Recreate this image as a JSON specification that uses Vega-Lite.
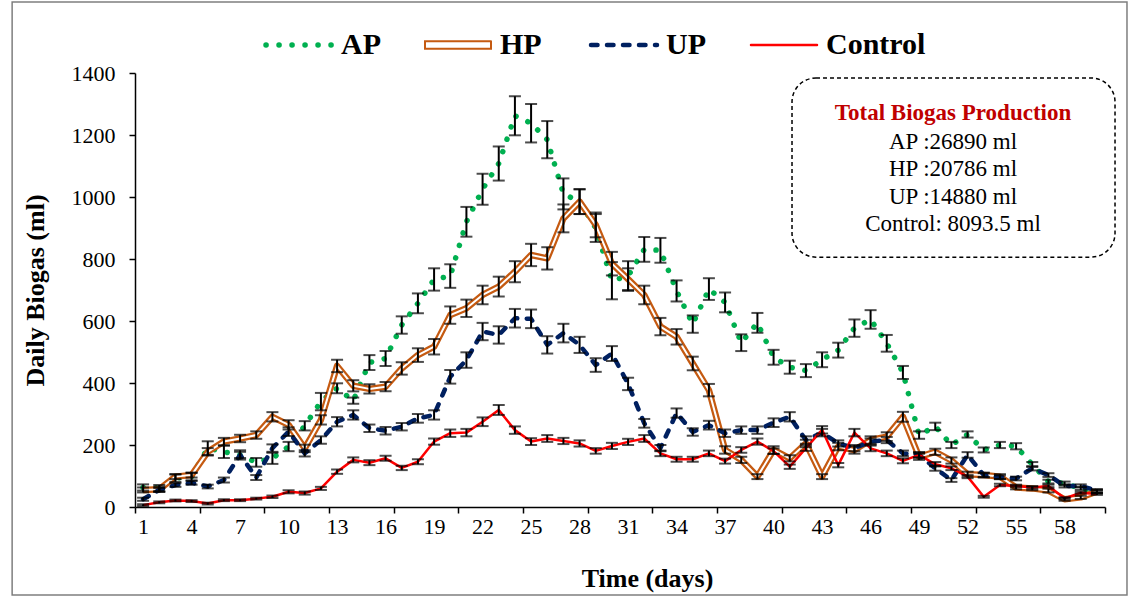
{
"$schema": "https://vega.github.io/schema/vega-lite/v6.json",
"width": 970, "height": 434,
"autosize": {"type": "none"},
"padding": {"left": 135, "top": 73, "right": 23, "bottom": 89},
"background": "white",
"config": {"view": {"stroke": null}, "font": "Liberation Serif", "axis": {"labelOverlap": false, "labelFlush": false, "labelBound": false}},
"datasets": {"bio": [
{"d":1,"s":"AP","v":63,"e":10},{"d":2,"s":"AP","v":61,"e":10},{"d":3,"s":"AP","v":93,"e":12},{"d":4,"s":"AP","v":98,"e":12},{"d":5,"s":"AP","v":190,"e":22},{"d":6,"s":"AP","v":178,"e":20},{"d":7,"s":"AP","v":168,"e":15},{"d":8,"s":"AP","v":144,"e":14},{"d":9,"s":"AP","v":157,"e":18},{"d":10,"s":"AP","v":195,"e":15},
{"d":11,"s":"AP","v":262,"e":15},{"d":12,"s":"AP","v":340,"e":28},{"d":13,"s":"AP","v":383,"e":16},{"d":14,"s":"AP","v":343,"e":10},{"d":15,"s":"AP","v":466,"e":24},{"d":16,"s":"AP","v":479,"e":24},{"d":17,"s":"AP","v":587,"e":28},{"d":18,"s":"AP","v":657,"e":32},{"d":19,"s":"AP","v":734,"e":36},{"d":20,"s":"AP","v":745,"e":38},
{"d":21,"s":"AP","v":920,"e":48},{"d":22,"s":"AP","v":1025,"e":50},{"d":23,"s":"AP","v":1108,"e":55},{"d":24,"s":"AP","v":1262,"e":63},{"d":25,"s":"AP","v":1238,"e":62},{"d":26,"s":"AP","v":1185,"e":60},{"d":27,"s":"AP","v":1010,"e":50},{"d":28,"s":"AP","v":985,"e":40},{"d":29,"s":"AP","v":900,"e":45},{"d":30,"s":"AP","v":730,"e":60},
{"d":31,"s":"AP","v":745,"e":48},{"d":32,"s":"AP","v":831,"e":40},{"d":33,"s":"AP","v":828,"e":40},{"d":34,"s":"AP","v":697,"e":34},{"d":35,"s":"AP","v":590,"e":28},{"d":36,"s":"AP","v":703,"e":35},{"d":37,"s":"AP","v":660,"e":32},{"d":38,"s":"AP","v":530,"e":27},{"d":39,"s":"AP","v":594,"e":32},{"d":40,"s":"AP","v":483,"e":24},
{"d":41,"s":"AP","v":451,"e":21},{"d":42,"s":"AP","v":440,"e":21},{"d":43,"s":"AP","v":475,"e":24},{"d":44,"s":"AP","v":506,"e":24},{"d":45,"s":"AP","v":577,"e":28},{"d":46,"s":"AP","v":605,"e":30},{"d":47,"s":"AP","v":528,"e":27},{"d":48,"s":"AP","v":434,"e":21},{"d":49,"s":"AP","v":232,"e":12},{"d":50,"s":"AP","v":260,"e":12},
{"d":51,"s":"AP","v":200,"e":10},{"d":52,"s":"AP","v":234,"e":10},{"d":53,"s":"AP","v":184,"e":8},{"d":54,"s":"AP","v":200,"e":10},{"d":55,"s":"AP","v":196,"e":10},{"d":56,"s":"AP","v":137,"e":8},{"d":57,"s":"AP","v":82,"e":6},{"d":58,"s":"AP","v":76,"e":6},{"d":59,"s":"AP","v":60,"e":5},{"d":60,"s":"AP","v":49,"e":5},
{"d":1,"s":"HP","v":55,"e":8},{"d":2,"s":"HP","v":57,"e":8},{"d":3,"s":"HP","v":98,"e":8},{"d":4,"s":"HP","v":103,"e":8},{"d":5,"s":"HP","v":178,"e":12},{"d":6,"s":"HP","v":211,"e":12},{"d":7,"s":"HP","v":221,"e":12},{"d":8,"s":"HP","v":232,"e":12},{"d":9,"s":"HP","v":291,"e":15},{"d":10,"s":"HP","v":265,"e":15},
{"d":11,"s":"HP","v":189,"e":12},{"d":12,"s":"HP","v":281,"e":15},{"d":13,"s":"HP","v":455,"e":20},{"d":14,"s":"HP","v":391,"e":18},{"d":15,"s":"HP","v":381,"e":15},{"d":16,"s":"HP","v":388,"e":15},{"d":17,"s":"HP","v":447,"e":20},{"d":18,"s":"HP","v":490,"e":22},{"d":19,"s":"HP","v":517,"e":25},{"d":20,"s":"HP","v":619,"e":28},
{"d":21,"s":"HP","v":641,"e":28},{"d":22,"s":"HP","v":684,"e":30},{"d":23,"s":"HP","v":711,"e":32},{"d":24,"s":"HP","v":759,"e":34},{"d":25,"s":"HP","v":813,"e":36},{"d":26,"s":"HP","v":802,"e":36},{"d":27,"s":"HP","v":931,"e":45},{"d":28,"s":"HP","v":985,"e":40},{"d":29,"s":"HP","v":910,"e":40},{"d":30,"s":"HP","v":785,"e":38},
{"d":31,"s":"HP","v":735,"e":35},{"d":32,"s":"HP","v":684,"e":30},{"d":33,"s":"HP","v":582,"e":28},{"d":34,"s":"HP","v":549,"e":25},{"d":35,"s":"HP","v":463,"e":22},{"d":36,"s":"HP","v":377,"e":20},{"d":37,"s":"HP","v":184,"e":12},{"d":38,"s":"HP","v":152,"e":10},{"d":39,"s":"HP","v":98,"e":8},{"d":40,"s":"HP","v":184,"e":12},
{"d":41,"s":"HP","v":157,"e":10},{"d":42,"s":"HP","v":205,"e":12},{"d":43,"s":"HP","v":98,"e":8},{"d":44,"s":"HP","v":195,"e":12},{"d":45,"s":"HP","v":184,"e":12},{"d":46,"s":"HP","v":216,"e":12},{"d":47,"s":"HP","v":227,"e":14},{"d":48,"s":"HP","v":291,"e":16},{"d":49,"s":"HP","v":162,"e":10},{"d":50,"s":"HP","v":178,"e":10},
{"d":51,"s":"HP","v":150,"e":10},{"d":52,"s":"HP","v":106,"e":8},{"d":53,"s":"HP","v":103,"e":8},{"d":54,"s":"HP","v":98,"e":8},{"d":55,"s":"HP","v":63,"e":6},{"d":56,"s":"HP","v":60,"e":6},{"d":57,"s":"HP","v":53,"e":6},{"d":58,"s":"HP","v":25,"e":5},{"d":59,"s":"HP","v":31,"e":5},{"d":60,"s":"HP","v":50,"e":5},
{"d":1,"s":"UP","v":25,"e":5},{"d":2,"s":"UP","v":55,"e":6},{"d":3,"s":"UP","v":71,"e":6},{"d":4,"s":"UP","v":78,"e":6},{"d":5,"s":"UP","v":66,"e":6},{"d":6,"s":"UP","v":87,"e":8},{"d":7,"s":"UP","v":168,"e":10},{"d":8,"s":"UP","v":95,"e":8},{"d":9,"s":"UP","v":190,"e":12},{"d":10,"s":"UP","v":243,"e":14},
{"d":11,"s":"UP","v":173,"e":10},{"d":12,"s":"UP","v":216,"e":12},{"d":13,"s":"UP","v":275,"e":15},{"d":14,"s":"UP","v":297,"e":15},{"d":15,"s":"UP","v":254,"e":12},{"d":16,"s":"UP","v":246,"e":12},{"d":17,"s":"UP","v":259,"e":12},{"d":18,"s":"UP","v":286,"e":14},{"d":19,"s":"UP","v":297,"e":15},{"d":20,"s":"UP","v":420,"e":22},
{"d":21,"s":"UP","v":474,"e":25},{"d":22,"s":"UP","v":566,"e":28},{"d":23,"s":"UP","v":555,"e":28},{"d":24,"s":"UP","v":609,"e":30},{"d":25,"s":"UP","v":607,"e":30},{"d":26,"s":"UP","v":523,"e":28},{"d":27,"s":"UP","v":561,"e":30},{"d":28,"s":"UP","v":523,"e":26},{"d":29,"s":"UP","v":458,"e":22},{"d":30,"s":"UP","v":495,"e":24},
{"d":31,"s":"UP","v":397,"e":20},{"d":32,"s":"UP","v":270,"e":14},{"d":33,"s":"UP","v":190,"e":10},{"d":34,"s":"UP","v":303,"e":15},{"d":35,"s":"UP","v":242,"e":12},{"d":36,"s":"UP","v":264,"e":14},{"d":37,"s":"UP","v":238,"e":12},{"d":38,"s":"UP","v":248,"e":12},{"d":39,"s":"UP","v":248,"e":12},{"d":40,"s":"UP","v":272,"e":14},
{"d":41,"s":"UP","v":291,"e":15},{"d":42,"s":"UP","v":216,"e":12},{"d":43,"s":"UP","v":240,"e":12},{"d":44,"s":"UP","v":205,"e":10},{"d":45,"s":"UP","v":190,"e":10},{"d":46,"s":"UP","v":211,"e":10},{"d":47,"s":"UP","v":216,"e":10},{"d":48,"s":"UP","v":173,"e":9},{"d":49,"s":"UP","v":168,"e":9},{"d":50,"s":"UP","v":125,"e":8},
{"d":51,"s":"UP","v":87,"e":6},{"d":52,"s":"UP","v":168,"e":9},{"d":53,"s":"UP","v":103,"e":6},{"d":54,"s":"UP","v":96,"e":6},{"d":55,"s":"UP","v":92,"e":6},{"d":56,"s":"UP","v":125,"e":7},{"d":57,"s":"UP","v":103,"e":6},{"d":58,"s":"UP","v":68,"e":5},{"d":59,"s":"UP","v":68,"e":5},{"d":60,"s":"UP","v":53,"e":5},
{"d":1,"s":"Control","v":6,"e":3},{"d":2,"s":"Control","v":15,"e":3},{"d":3,"s":"Control","v":21,"e":3},{"d":4,"s":"Control","v":19,"e":3},{"d":5,"s":"Control","v":11,"e":3},{"d":6,"s":"Control","v":22,"e":3},{"d":7,"s":"Control","v":22,"e":3},{"d":8,"s":"Control","v":27,"e":3},{"d":9,"s":"Control","v":33,"e":4},{"d":10,"s":"Control","v":49,"e":5},
{"d":11,"s":"Control","v":45,"e":5},{"d":12,"s":"Control","v":60,"e":5},{"d":13,"s":"Control","v":114,"e":7},{"d":14,"s":"Control","v":152,"e":8},{"d":15,"s":"Control","v":143,"e":8},{"d":16,"s":"Control","v":157,"e":8},{"d":17,"s":"Control","v":126,"e":7},{"d":18,"s":"Control","v":146,"e":8},{"d":19,"s":"Control","v":211,"e":10},{"d":20,"s":"Control","v":238,"e":12},
{"d":21,"s":"Control","v":240,"e":12},{"d":22,"s":"Control","v":275,"e":14},{"d":23,"s":"Control","v":313,"e":16},{"d":24,"s":"Control","v":248,"e":12},{"d":25,"s":"Control","v":211,"e":11},{"d":26,"s":"Control","v":221,"e":11},{"d":27,"s":"Control","v":213,"e":10},{"d":28,"s":"Control","v":205,"e":10},{"d":29,"s":"Control","v":181,"e":9},{"d":30,"s":"Control","v":197,"e":10},
{"d":31,"s":"Control","v":210,"e":10},{"d":32,"s":"Control","v":221,"e":11},{"d":33,"s":"Control","v":173,"e":9},{"d":34,"s":"Control","v":154,"e":8},{"d":35,"s":"Control","v":154,"e":8},{"d":36,"s":"Control","v":173,"e":9},{"d":37,"s":"Control","v":148,"e":8},{"d":38,"s":"Control","v":184,"e":9},{"d":39,"s":"Control","v":211,"e":10},{"d":40,"s":"Control","v":180,"e":9},
{"d":41,"s":"Control","v":130,"e":7},{"d":42,"s":"Control","v":190,"e":9},{"d":43,"s":"Control","v":249,"e":12},{"d":44,"s":"Control","v":135,"e":7},{"d":45,"s":"Control","v":240,"e":12},{"d":46,"s":"Control","v":189,"e":9},{"d":47,"s":"Control","v":173,"e":9},{"d":48,"s":"Control","v":149,"e":8},{"d":49,"s":"Control","v":168,"e":8},{"d":50,"s":"Control","v":138,"e":7},
{"d":51,"s":"Control","v":125,"e":6},{"d":52,"s":"Control","v":98,"e":5},{"d":53,"s":"Control","v":33,"e":3},{"d":54,"s":"Control","v":71,"e":4},{"d":55,"s":"Control","v":68,"e":4},{"d":56,"s":"Control","v":63,"e":4},{"d":57,"s":"Control","v":68,"e":4},{"d":58,"s":"Control","v":28,"e":3},{"d":59,"s":"Control","v":46,"e":3},{"d":60,"s":"Control","v":42,"e":3}
], "one": [{"k": 1}]},
"layer": [
  {"data": {"name": "bio"}, "transform": [{"filter": "datum.s === 'AP'"}],
   "mark": {"type": "line", "strokeDash": [0.1, 12.9], "strokeWidth": 5.5, "strokeCap": "round", "strokeJoin": "round"},
   "encoding": {
     "x": {"field": "d", "type": "quantitative",
       "scale": {"domain": [0.5, 60.5], "nice": false, "zero": false},
       "axis": {"title": "Time (days)",
         "values": [0.5,1,4,4.5,7,8.5,10,12.5,13,16,16.5,19,20.5,22,24.5,25,28,28.5,31,32.5,34,36.5,37,40,40.5,43,44.5,46,48.5,49,52,52.5,55,56.5,58,60.5],
         "labelExpr": "datum.value % 1 === 0 ? datum.label : ''",
         "tickOpacity": {"condition": {"test": "datum.value % 1 === 0", "value": 0}, "value": 1},
         "format": "d", "labelOverlap": false, "labelFlush": false, "labelBound": false,
         "tickSize": 6, "tickColor": "black", "tickWidth": 1.5,
         "domainColor": "black", "domainWidth": 1.5, "grid": false,
         "labelFont": "Liberation Serif", "labelFontSize": 22, "labelColor": "black", "labelPadding": 3,
         "titleFont": "Liberation Serif", "titleFontSize": 26, "titleFontWeight": "bold", "titleColor": "black",
         "titleX": 512, "titleY": 71, "titleAlign": "center", "titleBaseline": "middle"
       }},
     "y": {"field": "v", "type": "quantitative",
       "scale": {"domain": [0, 1400], "nice": false},
       "axis": {"title": "Daily Biogas (ml)",
         "values": [0,200,400,600,800,1000,1200,1400], "format": "d", "labelOverlap": false,
         "tickSize": 6, "tickColor": "black", "tickWidth": 1.5,
         "domainColor": "black", "domainWidth": 1.5, "grid": false,
         "labelFont": "Liberation Serif", "labelFontSize": 22, "labelColor": "black", "labelPadding": 14,
         "titleFont": "Liberation Serif", "titleFontSize": 26, "titleFontWeight": "bold", "titleColor": "black",
         "titleX": -100, "titleY": 217, "titleAngle": 270, "titleAlign": "center", "titleBaseline": "middle"
       }},
     "color": {"field": "s", "type": "nominal",
       "scale": {"domain": ["AP", "HP", "UP", "Control"], "range": ["#00B050", "#C55A11", "#002060", "#FF0000"]},
       "legend": {"orient": "none", "legendX": 149, "legendY": -43, "direction": "horizontal", "title": null,
         "symbolType": "stroke", "symbolSize": 4356, "symbolStrokeWidth": 4,
         "labelFont": "Liberation Serif", "labelFontSize": 30, "labelFontWeight": "bold", "labelColor": "black",
         "labelOffset": 27, "columnPadding": 40,
         "encode": {"symbols": {"update": {
           "shape": {"signal": "datum.value === 'HP' ? 'M-1,-0.11H1V0.11H-1Z' : 'stroke'"},
           "fill": {"signal": "datum.value === 'HP' ? 'white' : 'transparent'"},
           "strokeWidth": {"signal": "datum.value === 'AP' ? 5.5 : datum.value === 'HP' ? 2 : datum.value === 'UP' ? 4.5 : 2.5"},
           "strokeDash": {"signal": "datum.value === 'AP' ? [0.1, 12.9] : datum.value === 'UP' ? [6.5, 9.5] : [1, 0]"},
           "strokeCap": {"value": "round"}
         }}}}}}},
  {"data": {"name": "bio"}, "transform": [{"filter": "datum.s === 'HP'"}],
   "mark": {"type": "line", "strokeWidth": 6.5, "strokeJoin": "round"},
   "encoding": {
     "x": {"field": "d", "type": "quantitative",
       "scale": {"domain": [0.5, 60.5], "nice": false, "zero": false},
       "axis": {"title": "Time (days)",
         "values": [0.5,1,4,4.5,7,8.5,10,12.5,13,16,16.5,19,20.5,22,24.5,25,28,28.5,31,32.5,34,36.5,37,40,40.5,43,44.5,46,48.5,49,52,52.5,55,56.5,58,60.5],
         "labelExpr": "datum.value % 1 === 0 ? datum.label : ''",
         "tickOpacity": {"condition": {"test": "datum.value % 1 === 0", "value": 0}, "value": 1},
         "format": "d", "labelOverlap": false, "labelFlush": false, "labelBound": false,
         "tickSize": 6, "tickColor": "black", "tickWidth": 1.5,
         "domainColor": "black", "domainWidth": 1.5, "grid": false,
         "labelFont": "Liberation Serif", "labelFontSize": 22, "labelColor": "black", "labelPadding": 3,
         "titleFont": "Liberation Serif", "titleFontSize": 26, "titleFontWeight": "bold", "titleColor": "black",
         "titleX": 512, "titleY": 71, "titleAlign": "center", "titleBaseline": "middle"
       }},
     "y": {"field": "v", "type": "quantitative",
       "scale": {"domain": [0, 1400], "nice": false},
       "axis": {"title": "Daily Biogas (ml)",
         "values": [0,200,400,600,800,1000,1200,1400], "format": "d", "labelOverlap": false,
         "tickSize": 6, "tickColor": "black", "tickWidth": 1.5,
         "domainColor": "black", "domainWidth": 1.5, "grid": false,
         "labelFont": "Liberation Serif", "labelFontSize": 22, "labelColor": "black", "labelPadding": 14,
         "titleFont": "Liberation Serif", "titleFontSize": 26, "titleFontWeight": "bold", "titleColor": "black",
         "titleX": -100, "titleY": 217, "titleAngle": 270, "titleAlign": "center", "titleBaseline": "middle"
       }},
     "color": {"field": "s", "type": "nominal", "scale": {"domain": ["AP", "HP", "UP", "Control"], "range": ["#00B050", "#C55A11", "#002060", "#FF0000"]}}}},
  {"data": {"name": "bio"}, "transform": [{"filter": "datum.s === 'HP'"}],
   "mark": {"type": "line", "strokeWidth": 2, "color": "white", "strokeJoin": "round"},
   "encoding": {
     "x": {"field": "d", "type": "quantitative",
       "scale": {"domain": [0.5, 60.5], "nice": false, "zero": false},
       "axis": {"title": "Time (days)",
         "values": [0.5,1,4,4.5,7,8.5,10,12.5,13,16,16.5,19,20.5,22,24.5,25,28,28.5,31,32.5,34,36.5,37,40,40.5,43,44.5,46,48.5,49,52,52.5,55,56.5,58,60.5],
         "labelExpr": "datum.value % 1 === 0 ? datum.label : ''",
         "tickOpacity": {"condition": {"test": "datum.value % 1 === 0", "value": 0}, "value": 1},
         "format": "d", "labelOverlap": false, "labelFlush": false, "labelBound": false,
         "tickSize": 6, "tickColor": "black", "tickWidth": 1.5,
         "domainColor": "black", "domainWidth": 1.5, "grid": false,
         "labelFont": "Liberation Serif", "labelFontSize": 22, "labelColor": "black", "labelPadding": 3,
         "titleFont": "Liberation Serif", "titleFontSize": 26, "titleFontWeight": "bold", "titleColor": "black",
         "titleX": 512, "titleY": 71, "titleAlign": "center", "titleBaseline": "middle"
       }},
     "y": {"field": "v", "type": "quantitative",
       "scale": {"domain": [0, 1400], "nice": false},
       "axis": {"title": "Daily Biogas (ml)",
         "values": [0,200,400,600,800,1000,1200,1400], "format": "d", "labelOverlap": false,
         "tickSize": 6, "tickColor": "black", "tickWidth": 1.5,
         "domainColor": "black", "domainWidth": 1.5, "grid": false,
         "labelFont": "Liberation Serif", "labelFontSize": 22, "labelColor": "black", "labelPadding": 14,
         "titleFont": "Liberation Serif", "titleFontSize": 26, "titleFontWeight": "bold", "titleColor": "black",
         "titleX": -100, "titleY": 217, "titleAngle": 270, "titleAlign": "center", "titleBaseline": "middle"
       }}}},
  {"data": {"name": "bio"}, "transform": [{"filter": "datum.s === 'UP'"}],
   "mark": {"type": "line", "strokeWidth": 4.5, "strokeDash": [6.5, 9.5], "strokeCap": "round", "strokeJoin": "round"},
   "encoding": {
     "x": {"field": "d", "type": "quantitative",
       "scale": {"domain": [0.5, 60.5], "nice": false, "zero": false},
       "axis": {"title": "Time (days)",
         "values": [0.5,1,4,4.5,7,8.5,10,12.5,13,16,16.5,19,20.5,22,24.5,25,28,28.5,31,32.5,34,36.5,37,40,40.5,43,44.5,46,48.5,49,52,52.5,55,56.5,58,60.5],
         "labelExpr": "datum.value % 1 === 0 ? datum.label : ''",
         "tickOpacity": {"condition": {"test": "datum.value % 1 === 0", "value": 0}, "value": 1},
         "format": "d", "labelOverlap": false, "labelFlush": false, "labelBound": false,
         "tickSize": 6, "tickColor": "black", "tickWidth": 1.5,
         "domainColor": "black", "domainWidth": 1.5, "grid": false,
         "labelFont": "Liberation Serif", "labelFontSize": 22, "labelColor": "black", "labelPadding": 3,
         "titleFont": "Liberation Serif", "titleFontSize": 26, "titleFontWeight": "bold", "titleColor": "black",
         "titleX": 512, "titleY": 71, "titleAlign": "center", "titleBaseline": "middle"
       }},
     "y": {"field": "v", "type": "quantitative",
       "scale": {"domain": [0, 1400], "nice": false},
       "axis": {"title": "Daily Biogas (ml)",
         "values": [0,200,400,600,800,1000,1200,1400], "format": "d", "labelOverlap": false,
         "tickSize": 6, "tickColor": "black", "tickWidth": 1.5,
         "domainColor": "black", "domainWidth": 1.5, "grid": false,
         "labelFont": "Liberation Serif", "labelFontSize": 22, "labelColor": "black", "labelPadding": 14,
         "titleFont": "Liberation Serif", "titleFontSize": 26, "titleFontWeight": "bold", "titleColor": "black",
         "titleX": -100, "titleY": 217, "titleAngle": 270, "titleAlign": "center", "titleBaseline": "middle"
       }},
     "color": {"field": "s", "type": "nominal", "scale": {"domain": ["AP", "HP", "UP", "Control"], "range": ["#00B050", "#C55A11", "#002060", "#FF0000"]}}}},
  {"data": {"name": "bio"}, "transform": [{"filter": "datum.s === 'Control'"}],
   "mark": {"type": "line", "strokeWidth": 2.5, "strokeJoin": "round"},
   "encoding": {
     "x": {"field": "d", "type": "quantitative",
       "scale": {"domain": [0.5, 60.5], "nice": false, "zero": false},
       "axis": {"title": "Time (days)",
         "values": [0.5,1,4,4.5,7,8.5,10,12.5,13,16,16.5,19,20.5,22,24.5,25,28,28.5,31,32.5,34,36.5,37,40,40.5,43,44.5,46,48.5,49,52,52.5,55,56.5,58,60.5],
         "labelExpr": "datum.value % 1 === 0 ? datum.label : ''",
         "tickOpacity": {"condition": {"test": "datum.value % 1 === 0", "value": 0}, "value": 1},
         "format": "d", "labelOverlap": false, "labelFlush": false, "labelBound": false,
         "tickSize": 6, "tickColor": "black", "tickWidth": 1.5,
         "domainColor": "black", "domainWidth": 1.5, "grid": false,
         "labelFont": "Liberation Serif", "labelFontSize": 22, "labelColor": "black", "labelPadding": 3,
         "titleFont": "Liberation Serif", "titleFontSize": 26, "titleFontWeight": "bold", "titleColor": "black",
         "titleX": 512, "titleY": 71, "titleAlign": "center", "titleBaseline": "middle"
       }},
     "y": {"field": "v", "type": "quantitative",
       "scale": {"domain": [0, 1400], "nice": false},
       "axis": {"title": "Daily Biogas (ml)",
         "values": [0,200,400,600,800,1000,1200,1400], "format": "d", "labelOverlap": false,
         "tickSize": 6, "tickColor": "black", "tickWidth": 1.5,
         "domainColor": "black", "domainWidth": 1.5, "grid": false,
         "labelFont": "Liberation Serif", "labelFontSize": 22, "labelColor": "black", "labelPadding": 14,
         "titleFont": "Liberation Serif", "titleFontSize": 26, "titleFontWeight": "bold", "titleColor": "black",
         "titleX": -100, "titleY": 217, "titleAngle": 270, "titleAlign": "center", "titleBaseline": "middle"
       }},
     "color": {"field": "s", "type": "nominal", "scale": {"domain": ["AP", "HP", "UP", "Control"], "range": ["#00B050", "#C55A11", "#002060", "#FF0000"]}}}},
  {"data": {"name": "bio"},
   "mark": {"type": "errorbar", "color": "black", "thickness": 2, "ticks": {"size": 12, "thickness": 2, "color": "black"}},
   "encoding": {
     "x": {"field": "d", "type": "quantitative",
       "scale": {"domain": [0.5, 60.5], "nice": false, "zero": false},
       "axis": {"title": "Time (days)",
         "values": [0.5,1,4,4.5,7,8.5,10,12.5,13,16,16.5,19,20.5,22,24.5,25,28,28.5,31,32.5,34,36.5,37,40,40.5,43,44.5,46,48.5,49,52,52.5,55,56.5,58,60.5],
         "labelExpr": "datum.value % 1 === 0 ? datum.label : ''",
         "tickOpacity": {"condition": {"test": "datum.value % 1 === 0", "value": 0}, "value": 1},
         "format": "d", "labelOverlap": false, "labelFlush": false, "labelBound": false,
         "tickSize": 6, "tickColor": "black", "tickWidth": 1.5,
         "domainColor": "black", "domainWidth": 1.5, "grid": false,
         "labelFont": "Liberation Serif", "labelFontSize": 22, "labelColor": "black", "labelPadding": 3,
         "titleFont": "Liberation Serif", "titleFontSize": 26, "titleFontWeight": "bold", "titleColor": "black",
         "titleX": 512, "titleY": 71, "titleAlign": "center", "titleBaseline": "middle"
       }},
     "y": {"field": "v", "type": "quantitative",
       "scale": {"domain": [0, 1400], "nice": false},
       "axis": {"title": "Daily Biogas (ml)",
         "values": [0,200,400,600,800,1000,1200,1400], "format": "d", "labelOverlap": false,
         "tickSize": 6, "tickColor": "black", "tickWidth": 1.5,
         "domainColor": "black", "domainWidth": 1.5, "grid": false,
         "labelFont": "Liberation Serif", "labelFontSize": 22, "labelColor": "black", "labelPadding": 14,
         "titleFont": "Liberation Serif", "titleFontSize": 26, "titleFontWeight": "bold", "titleColor": "black",
         "titleX": -100, "titleY": 217, "titleAngle": 270, "titleAlign": "center", "titleBaseline": "middle"
       }},
     "yError": {"field": "e"}}},
  {"data": {"name": "one"},
   "mark": {"type": "rect", "fill": "transparent", "stroke": "#7f7f7f", "strokeWidth": 1.5},
   "encoding": {
     "x": {"datum": -7.1, "type": "quantitative",
       "axis": {"title": "Time (days)",
         "values": [0.5,1,4,4.5,7,8.5,10,12.5,13,16,16.5,19,20.5,22,24.5,25,28,28.5,31,32.5,34,36.5,37,40,40.5,43,44.5,46,48.5,49,52,52.5,55,56.5,58,60.5],
         "labelExpr": "datum.value % 1 === 0 ? datum.label : ''",
         "tickOpacity": {"condition": {"test": "datum.value % 1 === 0", "value": 0}, "value": 1},
         "format": "d", "labelOverlap": false, "labelFlush": false, "labelBound": false,
         "tickSize": 6, "tickColor": "black", "tickWidth": 1.5,
         "domainColor": "black", "domainWidth": 1.5, "grid": false,
         "labelFont": "Liberation Serif", "labelFontSize": 22, "labelColor": "black", "labelPadding": 3,
         "titleFont": "Liberation Serif", "titleFontSize": 26, "titleFontWeight": "bold", "titleColor": "black",
         "titleX": 512, "titleY": 71, "titleAlign": "center", "titleBaseline": "middle"
       }},
     "x2": {"datum": 61.86},
     "y": {"datum": 1629, "type": "quantitative",
       "axis": {"title": "Daily Biogas (ml)",
         "values": [0,200,400,600,800,1000,1200,1400], "format": "d", "labelOverlap": false,
         "tickSize": 6, "tickColor": "black", "tickWidth": 1.5,
         "domainColor": "black", "domainWidth": 1.5, "grid": false,
         "labelFont": "Liberation Serif", "labelFontSize": 22, "labelColor": "black", "labelPadding": 14,
         "titleFont": "Liberation Serif", "titleFontSize": 26, "titleFontWeight": "bold", "titleColor": "black",
         "titleX": -100, "titleY": 217, "titleAngle": 270, "titleAlign": "center", "titleBaseline": "middle"
       }},
     "y2": {"datum": -284}}},
  {"data": {"name": "one"},
   "mark": {"type": "rect", "fill": "white", "stroke": "black", "strokeWidth": 1.5, "strokeDash": [4, 3], "cornerRadius": 24},
   "encoding": {
     "x": {"datum": 41.14, "type": "quantitative",
       "axis": {"title": "Time (days)",
         "values": [0.5,1,4,4.5,7,8.5,10,12.5,13,16,16.5,19,20.5,22,24.5,25,28,28.5,31,32.5,34,36.5,37,40,40.5,43,44.5,46,48.5,49,52,52.5,55,56.5,58,60.5],
         "labelExpr": "datum.value % 1 === 0 ? datum.label : ''",
         "tickOpacity": {"condition": {"test": "datum.value % 1 === 0", "value": 0}, "value": 1},
         "format": "d", "labelOverlap": false, "labelFlush": false, "labelBound": false,
         "tickSize": 6, "tickColor": "black", "tickWidth": 1.5,
         "domainColor": "black", "domainWidth": 1.5, "grid": false,
         "labelFont": "Liberation Serif", "labelFontSize": 22, "labelColor": "black", "labelPadding": 3,
         "titleFont": "Liberation Serif", "titleFontSize": 26, "titleFontWeight": "bold", "titleColor": "black",
         "titleX": 512, "titleY": 71, "titleAlign": "center", "titleBaseline": "middle"
       }},
     "x2": {"datum": 61.12},
     "y": {"datum": 1384, "type": "quantitative",
       "axis": {"title": "Daily Biogas (ml)",
         "values": [0,200,400,600,800,1000,1200,1400], "format": "d", "labelOverlap": false,
         "tickSize": 6, "tickColor": "black", "tickWidth": 1.5,
         "domainColor": "black", "domainWidth": 1.5, "grid": false,
         "labelFont": "Liberation Serif", "labelFontSize": 22, "labelColor": "black", "labelPadding": 14,
         "titleFont": "Liberation Serif", "titleFontSize": 26, "titleFontWeight": "bold", "titleColor": "black",
         "titleX": -100, "titleY": 217, "titleAngle": 270, "titleAlign": "center", "titleBaseline": "middle"
       }},
     "y2": {"datum": 806}}},
  {"data": {"name": "one"},
   "mark": {"type": "text", "text": "Total Biogas Production", "font": "Liberation Serif", "fontSize": 23, "fontWeight": "bold", "color": "#C00000", "align": "center", "baseline": "middle"},
   "encoding": {
     "x": {"datum": 51.1, "type": "quantitative",
       "axis": {"title": "Time (days)",
         "values": [0.5,1,4,4.5,7,8.5,10,12.5,13,16,16.5,19,20.5,22,24.5,25,28,28.5,31,32.5,34,36.5,37,40,40.5,43,44.5,46,48.5,49,52,52.5,55,56.5,58,60.5],
         "labelExpr": "datum.value % 1 === 0 ? datum.label : ''",
         "tickOpacity": {"condition": {"test": "datum.value % 1 === 0", "value": 0}, "value": 1},
         "format": "d", "labelOverlap": false, "labelFlush": false, "labelBound": false,
         "tickSize": 6, "tickColor": "black", "tickWidth": 1.5,
         "domainColor": "black", "domainWidth": 1.5, "grid": false,
         "labelFont": "Liberation Serif", "labelFontSize": 22, "labelColor": "black", "labelPadding": 3,
         "titleFont": "Liberation Serif", "titleFontSize": 26, "titleFontWeight": "bold", "titleColor": "black",
         "titleX": 512, "titleY": 71, "titleAlign": "center", "titleBaseline": "middle"
       }},
     "y": {"datum": 1271, "type": "quantitative",
       "axis": {"title": "Daily Biogas (ml)",
         "values": [0,200,400,600,800,1000,1200,1400], "format": "d", "labelOverlap": false,
         "tickSize": 6, "tickColor": "black", "tickWidth": 1.5,
         "domainColor": "black", "domainWidth": 1.5, "grid": false,
         "labelFont": "Liberation Serif", "labelFontSize": 22, "labelColor": "black", "labelPadding": 14,
         "titleFont": "Liberation Serif", "titleFontSize": 26, "titleFontWeight": "bold", "titleColor": "black",
         "titleX": -100, "titleY": 217, "titleAngle": 270, "titleAlign": "center", "titleBaseline": "middle"
       }}}},
  {"data": {"name": "one"},
   "mark": {"type": "text", "text": ["AP :26890 ml", "HP :20786 ml", "UP :14880 ml", "Control: 8093.5 ml"], "font": "Liberation Serif", "fontSize": 23, "color": "black", "align": "center", "baseline": "top", "lineHeight": 27.5},
   "encoding": {
     "x": {"datum": 51.1, "type": "quantitative",
       "axis": {"title": "Time (days)",
         "values": [0.5,1,4,4.5,7,8.5,10,12.5,13,16,16.5,19,20.5,22,24.5,25,28,28.5,31,32.5,34,36.5,37,40,40.5,43,44.5,46,48.5,49,52,52.5,55,56.5,58,60.5],
         "labelExpr": "datum.value % 1 === 0 ? datum.label : ''",
         "tickOpacity": {"condition": {"test": "datum.value % 1 === 0", "value": 0}, "value": 1},
         "format": "d", "labelOverlap": false, "labelFlush": false, "labelBound": false,
         "tickSize": 6, "tickColor": "black", "tickWidth": 1.5,
         "domainColor": "black", "domainWidth": 1.5, "grid": false,
         "labelFont": "Liberation Serif", "labelFontSize": 22, "labelColor": "black", "labelPadding": 3,
         "titleFont": "Liberation Serif", "titleFontSize": 26, "titleFontWeight": "bold", "titleColor": "black",
         "titleX": 512, "titleY": 71, "titleAlign": "center", "titleBaseline": "middle"
       }},
     "y": {"datum": 1213, "type": "quantitative",
       "axis": {"title": "Daily Biogas (ml)",
         "values": [0,200,400,600,800,1000,1200,1400], "format": "d", "labelOverlap": false,
         "tickSize": 6, "tickColor": "black", "tickWidth": 1.5,
         "domainColor": "black", "domainWidth": 1.5, "grid": false,
         "labelFont": "Liberation Serif", "labelFontSize": 22, "labelColor": "black", "labelPadding": 14,
         "titleFont": "Liberation Serif", "titleFontSize": 26, "titleFontWeight": "bold", "titleColor": "black",
         "titleX": -100, "titleY": 217, "titleAngle": 270, "titleAlign": "center", "titleBaseline": "middle"
       }}}}
]
}
